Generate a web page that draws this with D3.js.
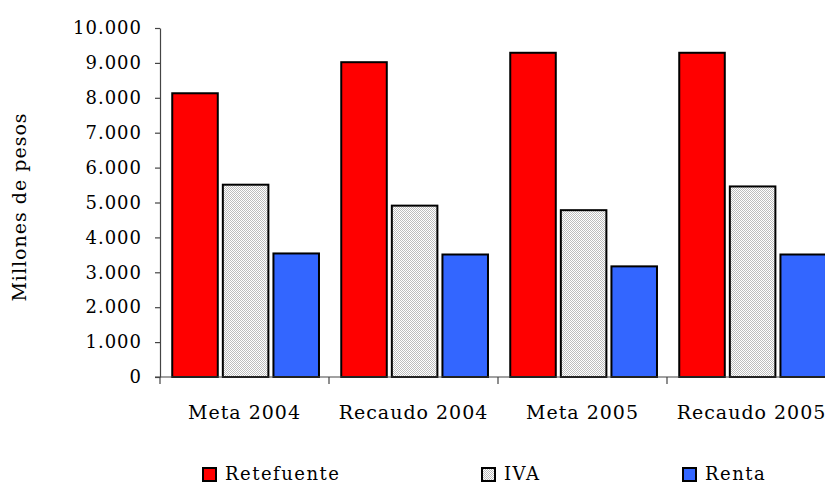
<!DOCTYPE html>
<html><head><meta charset="utf-8">
<script src="https://cdn.jsdelivr.net/npm/d3@7"></script>
<style>
body{margin:0;background:#fff;}
text{font-family:"DejaVu Serif",serif;fill:#000;}
</style></head>
<body>
<svg id="c" width="825" height="485"></svg>
<script>
const categories = ["Meta 2004", "Recaudo 2004", "Meta 2005", "Recaudo 2005"];
const seriesNames = ["Retefuente", "IVA", "Renta"];
const retefuente = [8130, 9020, 9290, 9290];
const iva = [5510, 4910, 4780, 5460];
const renta = [3540, 3510, 3170, 3510];
const yTicks = [0,1000,2000,3000,4000,5000,6000,7000,8000,9000,10000];
const yTickLabels = ["0","1.000","2.000","3.000","4.000","5.000","6.000","7.000","8.000","9.000","10.000"];

const seriesValues = [retefuente, iva, renta];
const fills = ["#ff0000", "url(#iva)", "#3366ff"];

const svg = d3.select("#c");
const defs = svg.append("defs");
const pat = defs.append("pattern").attr("id","iva").attr("width",2).attr("height",2).attr("patternUnits","userSpaceOnUse");
pat.append("rect").attr("width",2).attr("height",2).attr("fill","#ffffff");
pat.append("rect").attr("width",1).attr("height",1).attr("fill","#bdbdbd");
pat.append("rect").attr("x",1).attr("y",1).attr("width",1).attr("height",1).attr("fill","#bdbdbd");

const x0 = 160, x1 = 836, yBot = 377, yTop = 28;
const x = d3.scaleBand().domain(categories).range([x0, x1]).paddingInner(0).paddingOuter(0);
const xi = d3.scaleBand().domain(seriesNames).range([0, x.bandwidth()]).paddingInner(0.1).paddingOuter(0.22).align(0.55);
const y = d3.scaleLinear().domain([0, 10000]).range([yBot, yTop]);

// bars
const g = svg.append("g");
categories.forEach((c, ci) => {
  seriesNames.forEach((s, si) => {
    const v = seriesValues[si][ci];
    g.append("rect")
      .attr("x", x(c) + xi(s))
      .attr("y", y(v))
      .attr("width", xi.bandwidth())
      .attr("height", y(0) - y(v))
      .attr("fill", fills[si])
      .attr("stroke", "#000")
      .attr("stroke-width", 2);
  });
});

// y axis
const yAxis = d3.axisLeft(y).tickValues(yTicks).tickSize(5).tickSizeOuter(0)
  .tickFormat((d,i) => yTickLabels[i]);
const ya = svg.append("g").attr("transform", `translate(${x0},0)`).call(yAxis);
ya.select(".domain").attr("stroke","#444").attr("stroke-width",1.2);
ya.selectAll(".tick line").attr("stroke","#444").attr("stroke-width",1.2);
ya.selectAll(".tick text").attr("x", -18).style("font-size", "18px").style("font-family","DejaVu Serif").attr("fill","#000").attr("letter-spacing","1px");

// x axis
const xAxis = d3.axisBottom(x).tickSize(0).tickSizeOuter(0);
const xa = svg.append("g").attr("transform", `translate(0,${yBot})`).call(xAxis);
xa.select(".domain").attr("stroke","#444").attr("stroke-width",1.2).attr("d", `M${x0-5},0H${x1}`);
xa.selectAll(".tick text").attr("y", 0).attr("dy", "42px").style("font-size", "19px").style("font-family","DejaVu Serif").attr("fill","#000").attr("letter-spacing","1px");
// boundary ticks
const bounds = categories.map(c => x(c)).concat([x1]);
xa.selectAll(".bt").data(bounds).enter().append("line").attr("class","bt")
  .attr("x1", d => d).attr("x2", d => d).attr("y1", 0).attr("y2", 7)
  .attr("stroke","#444").attr("stroke-width",1.2);

// y title
svg.append("text").attr("transform","translate(26,207) rotate(-90)")
  .attr("text-anchor","middle").style("font-size","19px").attr("letter-spacing","1px").text("Millones de pesos");

// legend
const legX = [203, 482, 683];
const leg = svg.append("g");
seriesNames.forEach((s, i) => {
  leg.append("rect").attr("x", legX[i]).attr("y", 468).attr("width", 13).attr("height", 13)
    .attr("fill", fills[i]).attr("stroke","#000").attr("stroke-width",2);
  leg.append("text").attr("x", legX[i] + 22).attr("y", 480).style("font-size", "18px").attr("letter-spacing","1.5px").text(s);
});
</script>
</body></html>
